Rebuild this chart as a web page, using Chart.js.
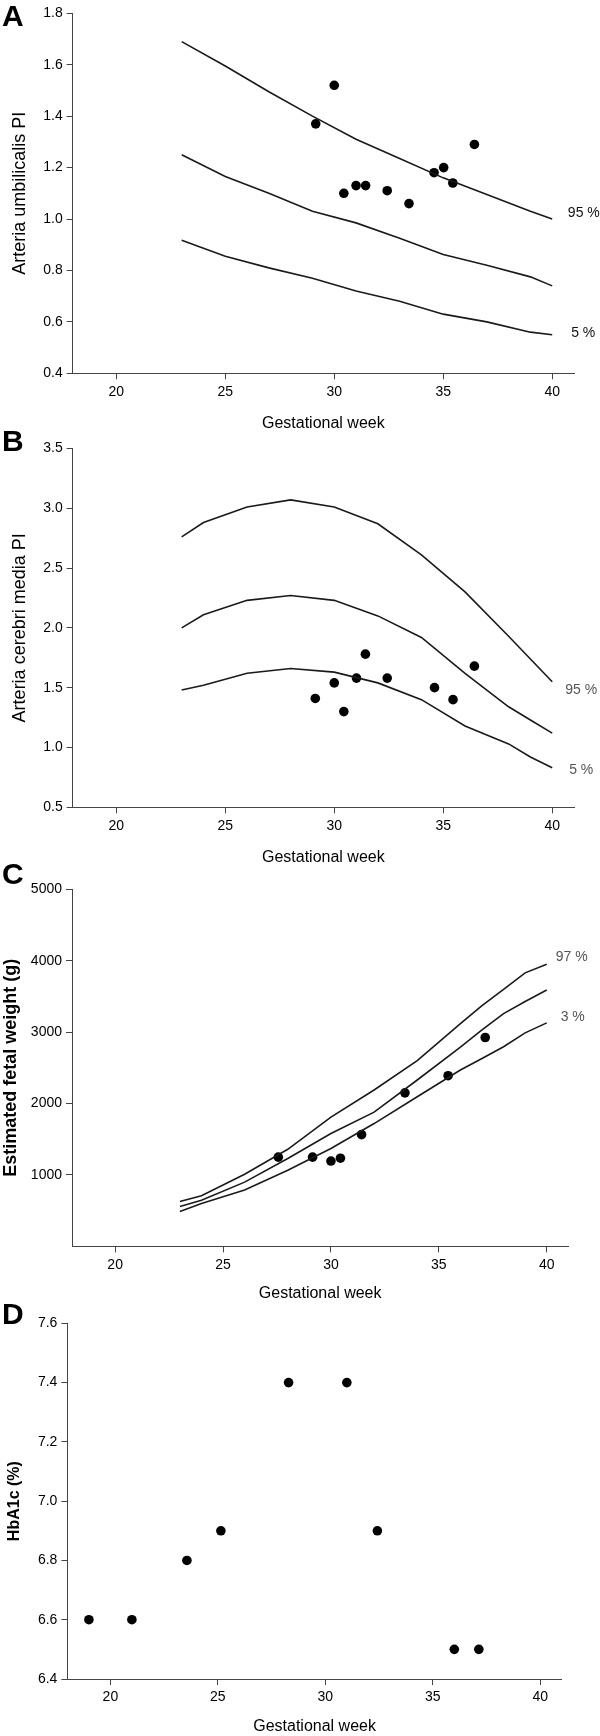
<!DOCTYPE html>
<html lang="en">
<head>
<meta charset="utf-8">
<title>Gestational week</title>
<script src="https://cdn.jsdelivr.net/npm/chart.js@4.4.1/dist/chart.umd.min.js"></script>
<style>
  body { margin: 0; background: #fff; }
  #figura { position: relative; width: 600px; height: 1736px; overflow: hidden; }
  .painel { position: absolute; left: 0; }
  .letra { position: absolute; left: 2px; font: bold 30px 'Liberation Sans', Arial, sans-serif; line-height: 30px; color: #000; }
</style>
</head>
<body>
<div id="figura">
  <canvas id="graficoA" class="painel"></canvas>
  <canvas id="graficoB" class="painel"></canvas>
  <canvas id="graficoC" class="painel"></canvas>
  <canvas id="graficoD" class="painel"></canvas>
  <div class="letra" style="top:1px">A</div>
  <div class="letra" style="top:426px">B</div>
  <div class="letra" style="top:859px">C</div>
  <div class="letra" style="top:1299px">D</div>
</div>
<script>
// Eixo x comum: semana gestacional
const ticksSemana = [20, 25, 30, 35, 40];

// Painel A - Arteria umbilicalis PI
const semanasPercA = [23, 25, 27, 29, 31, 33, 35, 37, 39, 40];
const p95A = [1.69, 1.595, 1.495, 1.40, 1.31, 1.235, 1.16, 1.095, 1.03, 1.00];
const p50A = [1.25, 1.165, 1.10, 1.03, 0.985, 0.925, 0.862, 0.82, 0.775, 0.74];
const p5A = [0.917, 0.855, 0.81, 0.77, 0.72, 0.68, 0.63, 0.60, 0.56, 0.55];
const semanasPacA = [29.15, 30.0, 30.44, 31.0, 31.44, 32.43, 33.43, 34.58, 35.02, 35.44, 36.43];
const valoresPacA = [1.37, 1.52, 1.10, 1.13, 1.13, 1.11, 1.06, 1.18, 1.20, 1.14, 1.29];
const ticksA = [0.4, 0.6, 0.8, 1.0, 1.2, 1.4, 1.6, 1.8];
const rotulosA = ['95 %', '5 %'];

// Painel B - Arteria cerebri media PI
const semanasPercB = [23, 24, 26, 28, 30, 32, 34, 36, 38, 39, 40];
const p95B = [2.76, 2.88, 3.01, 3.07, 3.01, 2.87, 2.61, 2.30, 1.93, 1.74, 1.55];
const p50B = [2.0, 2.11, 2.23, 2.27, 2.23, 2.10, 1.92, 1.62, 1.34, 1.23, 1.12];
const p5B = [1.48, 1.52, 1.62, 1.66, 1.63, 1.54, 1.40, 1.18, 1.03, 0.92, 0.83];
const semanasPacB = [29.13, 30.0, 30.44, 31.02, 31.43, 32.43, 34.6, 35.45, 36.43];
const valoresPacB = [1.41, 1.54, 1.30, 1.58, 1.78, 1.58, 1.50, 1.40, 1.68];
const ticksB = [0.5, 1.0, 1.5, 2.0, 2.5, 3.0, 3.5];
const rotulosB = ['95 %', '5 %'];

// Painel C - peso fetal estimado
const semanasPercC = [23, 24, 26, 28, 30, 32, 34, 36, 37, 38, 39, 40];
const p97C = [630, 710, 1010, 1360, 1810, 2190, 2600, 3120, 3370, 3600, 3830, 3950];
const p50C = [560, 645, 900, 1230, 1580, 1880, 2330, 2790, 3030, 3260, 3430, 3590];
const p3C = [490, 600, 790, 1065, 1370, 1720, 2095, 2470, 2630, 2795, 2990, 3130];
const semanasPacC = [27.56, 29.15, 30.0, 30.44, 31.42, 33.43, 35.43, 37.15];
const valoresPacC = [1250, 1250, 1195, 1235, 1565, 2150, 2390, 2925];
const ticksC = [1000, 2000, 3000, 4000, 5000];
const rotulosC = ['97 %', '3 %'];

// Painel D - HbA1c
const semanasPacD = [19.0, 21.0, 23.56, 25.14, 28.29, 31.0, 32.42, 36.0, 37.14];
const valoresPacD = [6.6, 6.6, 6.8, 6.9, 7.4, 7.4, 6.9, 6.5, 6.5];
const ticksD = [6.4, 6.6, 6.8, 7.0, 7.2, 7.4, 7.6];

Chart.defaults.font.family = "'Liberation Sans', Arial, sans-serif";
Chart.defaults.color = '#000';

// Junta semanas e valores em pontos {x, y}
function pontos(semanas, valores) {
  return semanas.map((s, i) => ({ x: s, y: valores[i] }));
}

function curva(semanas, valores) {
  return {
    type: 'line',
    data: pontos(semanas, valores),
    borderColor: '#1a1a1a',
    borderWidth: 1.6,
    pointRadius: 0,
    tension: 0,
    fill: false
  };
}

function pacientes(semanas, valores) {
  return {
    type: 'scatter',
    data: pontos(semanas, valores),
    backgroundColor: '#000',
    borderWidth: 0,
    pointRadius: 4.8
  };
}

// Escreve os rótulos de percentil no fim das curvas
const rotulosPlugin = {
  id: 'rotulosPercentil',
  afterDatasetsDraw(chart, args, opts) {
    if (!opts.itens || !opts.itens.length) return;
    const { ctx, scales } = chart;
    ctx.save();
    ctx.font = "14px 'Liberation Sans', Arial, sans-serif";
    ctx.fillStyle = opts.cor;
    ctx.textAlign = 'center';
    ctx.textBaseline = 'middle';
    opts.itens.forEach(r => {
      const ds = chart.data.datasets[r.serie];
      const ultimo = ds.data[ds.data.length - 1];
      const x = scales.x.getPixelForValue(ultimo.x) + r.dx;
      const y = scales.y.getPixelForValue(ultimo.y) + r.dy;
      ctx.fillText(r.texto, x, y);
    });
    ctx.restore();
  }
};

// Cria um painel com área do gráfico em posição fixa na página
function criarGrafico(id, geo, cfg) {
  const canvas = document.getElementById(id);
  canvas.width = 600;
  canvas.height = geo.altura;
  canvas.style.top = geo.topo + 'px';

  const fonteX = { size: 16, lineHeight: 1.2 };
  const fundo = geo.topo + geo.altura;

  return new Chart(canvas, {
    data: { datasets: cfg.datasets },
    plugins: [rotulosPlugin],
    options: {
      responsive: false,
      animation: false,
      events: [],
      layout: {
        padding: { left: 0, right: 600 - geo.dir, top: geo.cima - geo.topo, bottom: 0 }
      },
      plugins: {
        legend: { display: false },
        tooltip: { enabled: false },
        rotulosPercentil: { itens: cfg.rotulos || [], cor: cfg.corRotulos || '#000' }
      },
      scales: {
        x: {
          type: 'linear',
          min: 18,
          max: 41,
          afterBuildTicks: s => { s.ticks = ticksSemana.map(v => ({ value: v })); },
          afterFit: s => { s.height = fundo - geo.baixo; },
          border: { display: true, color: '#444', width: 1 },
          grid: { drawOnChartArea: false, drawTicks: true, tickLength: 6, tickColor: '#444' },
          ticks: { font: { size: 14 }, padding: 4, maxRotation: 0, color: '#000' },
          title: {
            display: true,
            text: 'Gestational week',
            font: fonteX,
            padding: { top: 0, bottom: Math.max(0, fundo - geo.tituloX - 9.6) }
          }
        },
        y: {
          type: 'linear',
          min: cfg.ticksY[0],
          max: cfg.ticksY[cfg.ticksY.length - 1],
          afterBuildTicks: s => { s.ticks = cfg.ticksY.map(v => ({ value: v })); },
          afterFit: s => { s.width = geo.esq; },
          border: { display: true, color: '#444', width: 1 },
          grid: { drawOnChartArea: false, drawTicks: true, tickLength: 6, tickColor: '#444' },
          ticks: {
            font: { size: 14 },
            padding: 4,
            color: '#000',
            callback: cfg.formato
          },
          title: {
            display: true,
            text: cfg.tituloY,
            font: cfg.fonteY,
            padding: { top: Math.max(0, geo.tituloY - cfg.fonteY.size * 0.6), bottom: 0 }
          }
        }
      }
    }
  });
}

const umaCasa = v => v.toFixed(1);

criarGrafico('graficoA',
  { topo: 0, altura: 436, esq: 72.7, dir: 574, cima: 13.3, baixo: 373.3, tituloX: 424, tituloY: 20 },
  {
    datasets: [curva(semanasPercA, p95A), curva(semanasPercA, p50A), curva(semanasPercA, p5A), pacientes(semanasPacA, valoresPacA)],
    ticksY: ticksA,
    formato: umaCasa,
    tituloY: 'Arteria umbilicalis PI',
    fonteY: { size: 18, lineHeight: 1.2 },
    rotulos: [
      { texto: rotulosA[0], serie: 0, dx: 31.6, dy: -6 },
      { texto: rotulosA[1], serie: 2, dx: 31, dy: -2 }
    ],
    corRotulos: '#111'
  });

criarGrafico('graficoB',
  { topo: 436, altura: 436, esq: 72.7, dir: 574, cima: 448.3, baixo: 807.3, tituloX: 858, tituloY: 20 },
  {
    datasets: [curva(semanasPercB, p95B), curva(semanasPercB, p50B), curva(semanasPercB, p5B), pacientes(semanasPacB, valoresPacB)],
    ticksY: ticksB,
    formato: umaCasa,
    tituloY: 'Arteria cerebri media PI',
    fonteY: { size: 18, lineHeight: 1.2 },
    rotulos: [
      { texto: rotulosB[0], serie: 0, dx: 29, dy: 8 },
      { texto: rotulosB[1], serie: 2, dx: 29, dy: 2 }
    ],
    corRotulos: '#555'
  });

criarGrafico('graficoC',
  { topo: 872, altura: 432, esq: 72, dir: 568.3, cima: 889.3, baixo: 1246.4, tituloX: 1294, tituloY: 11 },
  {
    datasets: [curva(semanasPercC, p97C), curva(semanasPercC, p50C), curva(semanasPercC, p3C), pacientes(semanasPacC, valoresPacC)],
    ticksY: [0].concat(ticksC),
    formato: v => (v === 0 ? null : String(v)),
    tituloY: 'Estimated fetal weight (g)',
    fonteY: { size: 18, weight: 'bold', lineHeight: 1.2 },
    rotulos: [
      { texto: rotulosC[0], serie: 0, dx: 25, dy: -7 },
      { texto: rotulosC[1], serie: 2, dx: 26, dy: -6 }
    ],
    corRotulos: '#555'
  });

criarGrafico('graficoD',
  { topo: 1304, altura: 432, esq: 67.4, dir: 561.8, cima: 1323.3, baixo: 1679, tituloX: 1727, tituloY: 15 },
  {
    datasets: [pacientes(semanasPacD, valoresPacD)],
    ticksY: ticksD,
    formato: umaCasa,
    tituloY: 'HbA1c (%)',
    fonteY: { size: 16, weight: 'bold', lineHeight: 1.2 }
  });
</script>
</body>
</html>
